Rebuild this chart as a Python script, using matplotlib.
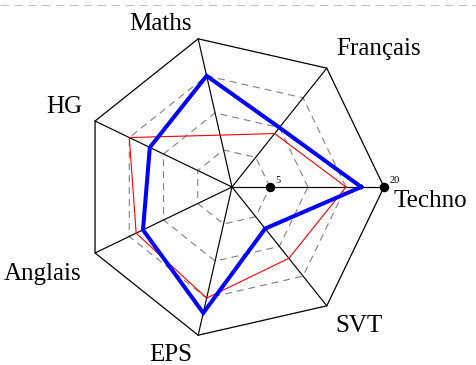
import numpy as np
import matplotlib
matplotlib.use('Agg')
import matplotlib.pyplot as plt
from matplotlib.lines import Line2D

matieres = ['Techno', 'Français', 'Maths', 'HG', 'Anglais', 'EPS', 'SVT']
notes_rouge = [15, 9, 7, 15, 14, 15, 12]
notes_bleu = [17, 10, 15, 12, 13, 17, 7]
niveaux = [5, 10, 15]
note_max = 20
reperes = [5, 20]

# placement des noms (decalage en pixels, alignement horizontal)
decalages = {
    'Techno': (10, 20, 'left'),
    'Français': (9, -13, 'left'),
    'Maths': (-6, -9, 'right'),
    'HG': (-13, -8, 'right'),
    'Anglais': (-14, 27, 'right'),
    'EPS': (-6, 26, 'right'),
    'SVT': (9, 26, 'left'),
}

plt.rcParams['lines.scale_dashes'] = False
serif = ['Liberation Serif', 'DejaVu Serif']

fig = plt.figure(figsize=(4.77, 3.65), dpi=100)
ax = fig.add_axes([0, 0, 1, 1])
ax.axis('off')

# centre du radar a (232, 187) px, rayon 152 px pour 20
k = note_max / 152
ax.set_xlim(-232 * k, (477 - 232) * k)
ax.set_ylim(-(365 - 187) * k, 187 * k)

n = len(matieres)
angles = np.arange(n) * 2 * np.pi / n
ux = np.cos(angles)
uy = np.sin(angles)


def ferme(v):
    return np.append(v, v[0])


for niv in niveaux:
    ax.plot(ferme(niv * ux), ferme(niv * uy), color='#808080', lw=0.8,
            dashes=(5, 3.6), zorder=1)

for i in range(n):
    ax.plot([0, note_max * ux[i]], [0, note_max * uy[i]], color='black', lw=0.85, zorder=2)
ax.plot(ferme(note_max * ux), ferme(note_max * uy), color='black', lw=0.9, zorder=2)

r = np.array(notes_rouge)
ax.plot(ferme(r * ux), ferme(r * uy), color='red', lw=0.8, zorder=3)
b = np.array(notes_bleu)
ax.plot(ferme(b * ux), ferme(b * uy), color='blue', lw=2.9, zorder=4,
        solid_joinstyle='miter')

for v in reperes:
    ax.plot(v, 0, 'o', color='black', ms=5.8, zorder=5)
    ax.annotate(str(v), xy=(v, 0), xytext=(5.5 * 0.72, 4.5 * 0.72),
                textcoords='offset points', ha='left', va='baseline',
                fontsize=7.5, family=serif)

for i, m in enumerate(matieres):
    dx, dy, ha = decalages[m]
    ax.annotate(m, xy=(note_max * ux[i], note_max * uy[i]),
                xytext=(dx * 0.72, -dy * 0.72), textcoords='offset points',
                ha=ha, va='baseline', fontsize=18, family=serif)

# ligne pointillee en haut de page
y_haut = 1 - 4.5 / 365
fig.add_artist(Line2D([0, 1], [y_haut, y_haut], transform=fig.transFigure,
                      color='#c0c0c0', lw=0.8, dashes=(6, 4)))

fig.savefig('out.png', dpi=100)
